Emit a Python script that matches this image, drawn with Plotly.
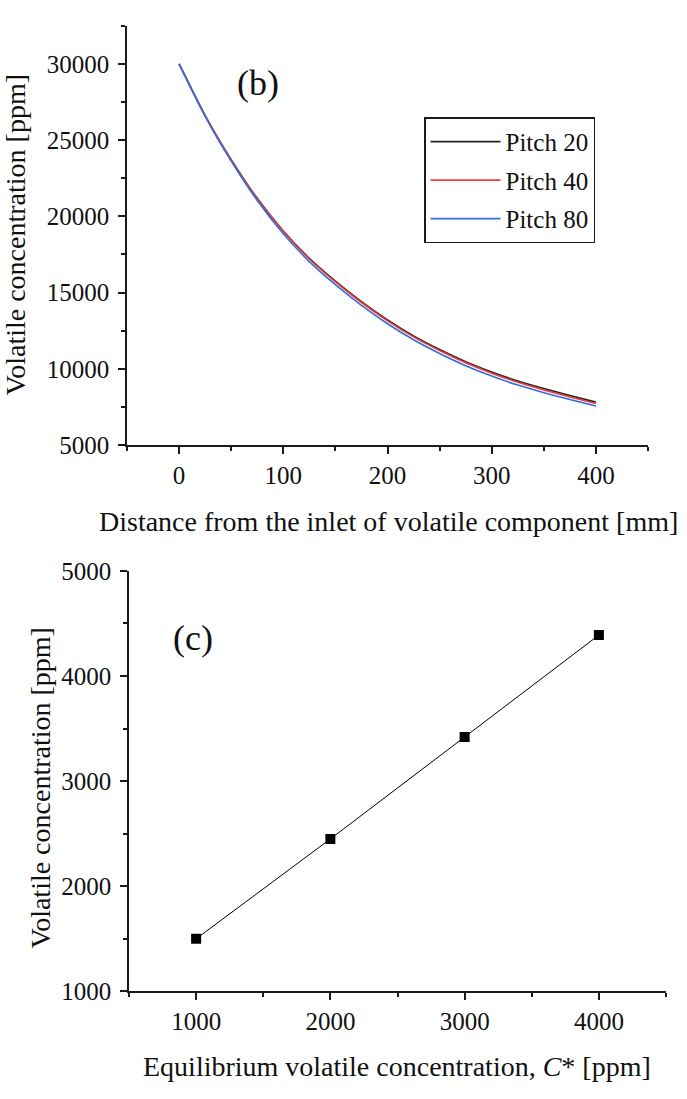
import plotly.graph_objects as go

# ---- panel (b): concentration along the channel for three pitches ----
distance_mm = [0, 25, 50, 75, 100, 125, 150, 175, 200, 225, 250, 275, 300, 325, 350, 375, 400]
pitch20 = [30000, 26610, 23720, 21180, 19040, 17245, 15750, 14405, 13210, 12165, 11270, 10475, 9800, 9205, 8710, 8250, 7820]
pitch40 = [30000, 26600, 23700, 21150, 19000, 17200, 15700, 14350, 13150, 12100, 11200, 10400, 9720, 9120, 8620, 8160, 7730]
pitch80 = [30000, 26560, 23620, 21035, 18855, 17035, 15520, 14165, 12960, 11910, 11010, 10210, 9535, 8935, 8440, 7985, 7560]
series_names = ["Pitch 20", "Pitch 40", "Pitch 80"]
series_colors = ["#222222", "#ee3b3b", "#2e6fdb"]

# ---- panel (c): outlet concentration vs equilibrium concentration ----
c_star_ppm = [1000, 2000, 3000, 4000]
c_out_ppm = [1500, 2450, 3420, 4390]

FONT = "Liberation Serif, serif"
INK = "#1a1a1a"
W, H = 687, 1099

fig = go.Figure()

for name, ys, col in zip(series_names, [pitch20, pitch40, pitch80], series_colors):
    fig.add_trace(go.Scatter(
        x=distance_mm, y=ys, name=name, mode="lines",
        line=dict(color=col, width=1.6, shape="spline", smoothing=0.6),
        xaxis="x", yaxis="y", legendgroup=name,
    ))

fig.add_trace(go.Scatter(
    x=c_star_ppm, y=c_out_ppm, mode="lines+markers", showlegend=False,
    line=dict(color="#000000", width=1),
    marker=dict(symbol="square", size=10, color="#000000"),
    xaxis="x2", yaxis="y2",
))


def main_axis(rng, dtick, minor_dtick, domain, anchor, standoff):
    return dict(
        range=rng, domain=domain, anchor=anchor, dtick=dtick, tick0=0,
        tickformat="d",
        showline=True, linecolor=INK, linewidth=1.6,
        ticks="outside", ticklen=7, tickwidth=1.5, tickcolor=INK,
        ticklabelstandoff=standoff,
        minor=dict(ticks="outside", ticklen=4, tickwidth=1.5, tickcolor=INK,
                   dtick=minor_dtick, tick0=0, showgrid=False),
        showgrid=False, zeroline=False,
        tickfont=dict(family=FONT, size=25, color="#111111"),
    )


def mirror_axis(rng, dtick, minor_dtick, overlaying, side, anchor):
    return dict(
        range=rng, overlaying=overlaying, side=side, anchor=anchor,
        dtick=dtick, tick0=0, showticklabels=False,
        showline=True, linecolor=INK, linewidth=1.6,
        ticks="inside", ticklen=8, tickwidth=1.5, tickcolor=INK,
        minor=dict(ticks="inside", ticklen=4, tickwidth=1.5, tickcolor=INK,
                   dtick=minor_dtick, tick0=0, showgrid=False),
        showgrid=False, zeroline=False,
    )


xb_range, yb_range = [-50, 450], [5000, 32500]
xc_range, yc_range = [500, 4500], [1000, 5000]

dom_b_x = [127 / W, 648 / W]
dom_b_y = [1 - 443 / H, 1 - 13 / H]
dom_c_x = [129 / W, 666 / W]
dom_c_y = [1 - 1003 / H, 1 - 572 / H]

fig.update_layout(
    width=W, height=H,
    margin=dict(l=0, r=0, t=0, b=0),
    paper_bgcolor="white", plot_bgcolor="white",
    font=dict(family=FONT, color="#111111"),
    xaxis=main_axis(xb_range, 100, 50, dom_b_x, "y", 0),
    yaxis=main_axis(yb_range, 5000, 2500, dom_b_y, "x", 4),
    xaxis3=mirror_axis(xb_range, 100, 50, "x", "top", "y"),
    yaxis3=mirror_axis(yb_range, 5000, 2500, "y", "right", "x"),
    xaxis2=main_axis(xc_range, 1000, 500, dom_c_x, "y2", 0),
    yaxis2=main_axis(yc_range, 1000, 500, dom_c_y, "x2", 4),
    xaxis4=mirror_axis(xc_range, 1000, 500, "x2", "top", "y2"),
    yaxis4=mirror_axis(yc_range, 1000, 500, "y2", "right", "x2"),
    legend=dict(
        x=424 / W, y=1 - 107 / H, xanchor="left", yanchor="top",
        bgcolor="white", bordercolor=INK, borderwidth=1.5,
        font=dict(family=FONT, size=25, color="#111111"),
        itemwidth=70, tracegroupgap=3,
    ),
    showlegend=True,
)

title_font = dict(family=FONT, size=28, color="#111111")
annotations = [
    dict(text="Distance from the inlet of volatile component [mm]",
         x=388 / W, y=1 - 521 / H, font=title_font),
    dict(text="Volatile concentration [ppm]", textangle=-90,
         x=15 / W, y=1 - 228 / H, font=title_font),
    dict(text="Equilibrium volatile concentration, <i>C</i>* [ppm]",
         x=397 / W, y=1 - 1080 / H, font=title_font),
    dict(text="Volatile concentration [ppm]", textangle=-90,
         x=40 / W, y=1 - 795 / H, font=title_font),
    dict(text="(b)", x=258 / W, y=1 - 72 / H, font=dict(family=FONT, size=36, color="#111111")),
    dict(text="(c)", x=193 / W, y=1 - 641 / H, font=dict(family=FONT, size=36, color="#111111")),
]
for a in annotations:
    a.update(xref="paper", yref="paper", showarrow=False, xanchor="center", yanchor="middle")
fig.update_layout(annotations=annotations)

fig.write_html("out.html")
